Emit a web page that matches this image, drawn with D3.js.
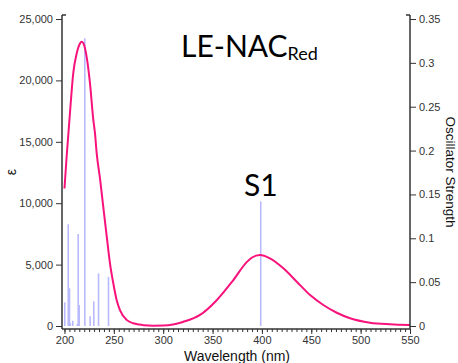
<!DOCTYPE html>
<html>
<head>
<meta charset="utf-8">
<script src="https://cdn.jsdelivr.net/npm/d3@7"></script>
<style>
  html, body { margin: 0; padding: 0; background: #fff; }
  svg { display: block; }
</style>
</head>
<body>
<svg id="chart" width="458" height="363"></svg>
<script>
// ---- data ----
const specWavelength = [200, 202.2, 205.6, 208.9, 212.4, 215.7, 217.4, 219.8, 222.5, 225.8, 229.2, 230.9, 232.6, 236, 239.3, 242.8, 246.1, 249.4, 252.9, 256.2, 263, 269.7, 279.8, 290, 300, 310, 320, 337.3, 354.2, 370.7, 384.6, 390, 398, 408.1, 421.7, 435.3, 448.8, 462.2, 475.8, 489.3, 509.5, 529.8, 550];
const specEpsilon    = [11200, 13800, 17400, 20600, 22200, 23000, 23150, 22900, 21900, 19800, 16800, 15700, 14100, 12000, 9700, 7300, 5100, 3500, 2100, 1300, 500, 220, 70, 30, 40, 120, 330, 900, 2100, 3700, 5200, 5580, 5780, 5510, 4700, 3610, 2520, 1710, 1080, 630, 270, 140, 80];

const stickWavelength = [200.3, 203.8, 205.1, 206, 208.4, 212.9, 213.9, 214.9, 220.6, 226, 229.7, 234.5, 244.6, 398.8];
const stickStrength   = [0.027, 0.116, 0.043, 0.003, 0.006, 0.002, 0.105, 0.024, 0.328, 0.011, 0.028, 0.060, 0.056, 0.142];

const xTickValues = [200, 250, 300, 350, 400, 450, 500, 550];
const yLeftTicks  = [0, 5000, 10000, 15000, 20000, 25000];
const yRightTicks = [0, 0.05, 0.1, 0.15, 0.2, 0.25, 0.3, 0.35];
const yRightLabels = ["0", "0.05", "0.1", "0.15", "0.2", "0.25", "0.3", "0.35"];

const titleMain = "LE-NAC";
const titleSub = "Red";
const peakLabel = "S1";
const xTitle = "Wavelength (nm)";
const yLeftTitle = "ε";
const yRightTitle = "Oscillator Strength";

// ---- layout ----
const svg = d3.select("#chart");
const padL = 62, padR = 410, padT = 15, padB = 329;

const x = d3.scaleLinear().domain([198, 550]).range([62.5, 410]);
const yL = d3.scaleLinear().domain([0, 25000]).range([326, 19]);
const yR = d3.scaleLinear().domain([0, 0.35]).range([326, 19]);

const axisColor = "#333";
const tickFont = "'Liberation Sans', Arial, sans-serif";

// sticks
svg.append("g").selectAll("line")
  .data(stickWavelength.map((w, i) => ({w, f: stickStrength[i]})))
  .join("line")
  .attr("x1", d => x(d.w)).attr("x2", d => x(d.w))
  .attr("y1", yR(0)).attr("y2", d => yR(d.f))
  .attr("stroke", "#b9b9ff")
  .attr("stroke-width", 1.6);

// spectrum
const line = d3.line()
  .x((d, i) => x(specWavelength[i]))
  .y(d => yL(d))
  .curve(d3.curveMonotoneX);
svg.append("path")
  .attr("d", line(specEpsilon))
  .attr("fill", "none")
  .attr("stroke", "#f7137b")
  .attr("stroke-width", 2);

// left axis
const gL = svg.append("g").attr("transform", `translate(${padL},0)`);
gL.call(d3.axisLeft(yL).tickValues(yLeftTicks).tickFormat(d3.format(",")).tickSize(6).tickSizeOuter(0).tickPadding(3));
gL.select(".domain").remove();
gL.append("line").attr("x1", 0).attr("x2", 0).attr("y1", padT).attr("y2", padB).attr("stroke", axisColor).attr("stroke-width", 1.5);
gL.append("line").attr("x1", 0).attr("x2", 4).attr("y1", padT).attr("y2", padT).attr("stroke", axisColor).attr("stroke-width", 1.5);

// right axis
const gR = svg.append("g").attr("transform", `translate(${padR},0)`);
gR.call(d3.axisRight(yR).tickValues(yRightTicks).tickFormat((d, i) => yRightLabels[i]).tickSize(6).tickSizeOuter(0).tickPadding(3));
gR.select(".domain").remove();
gR.append("line").attr("x1", 0).attr("x2", 0).attr("y1", padT).attr("y2", padB).attr("stroke", axisColor).attr("stroke-width", 1.5);
gR.append("line").attr("x1", 0).attr("x2", -4).attr("y1", padT).attr("y2", padT).attr("stroke", axisColor).attr("stroke-width", 1.5);

// bottom axis
const gB = svg.append("g").attr("transform", `translate(0,${padB})`);
gB.call(d3.axisBottom(x).tickValues(d3.range(200, 551, 5)).tickSize(3).tickFormat("").tickSizeOuter(0));
gB.select(".domain").remove();
const gB2 = svg.append("g").attr("transform", `translate(0,${padB})`);
gB2.call(d3.axisBottom(x).tickValues(xTickValues).tickSize(5).tickSizeOuter(0).tickPadding(2));
gB2.select(".domain").remove();
svg.append("line").attr("x1", padL).attr("x2", padR).attr("y1", padB).attr("y2", padB).attr("stroke", axisColor).attr("stroke-width", 1.5);

svg.selectAll(".tick line").attr("stroke", axisColor).attr("stroke-width", 1);
svg.selectAll(".tick text").attr("fill", "#333").style("font-family", tickFont).style("font-size", "11px");

// axis titles
svg.append("text").attr("x", 237).attr("y", 361).attr("text-anchor", "middle")
  .style("font-family", tickFont).style("font-size", "14px").attr("fill", "#111").text(xTitle);
svg.append("text").attr("transform", "translate(16,172) rotate(-90)").attr("text-anchor", "middle")
  .style("font-family", tickFont).style("font-size", "14px").attr("fill", "#111").text(yLeftTitle);
svg.append("text").attr("transform", "translate(446,172) rotate(90)").attr("text-anchor", "middle")
  .style("font-family", tickFont).style("font-size", "13.5px").attr("fill", "#111").text(yRightTitle);

// title
const t = svg.append("text").attr("x", 181).attr("y", 57)
  .style("font-family", "Lato, 'Open Sans', sans-serif").attr("fill", "#000");
t.append("tspan").style("font-size", "30px").text(titleMain);
t.append("tspan").style("font-size", "18px").attr("dy", 3).text(titleSub);

// S1 label
svg.append("text").attr("x", x(398.8)).attr("y", 196).attr("text-anchor", "middle")
  .style("font-family", "Lato, 'Open Sans', sans-serif").style("font-size", "30px").attr("fill", "#000").text(peakLabel);
</script>
</body>
</html>
